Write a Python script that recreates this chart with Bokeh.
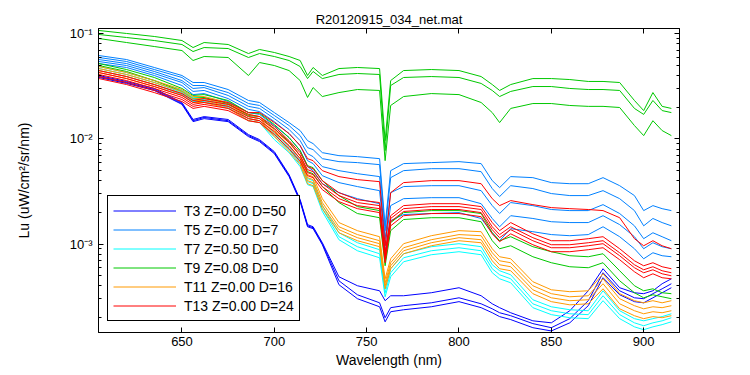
from bokeh.plotting import figure
from bokeh.models import Range1d, LinearAxis, LogAxis, FixedTicker, CustomJSTickFormatter, Legend, LegendItem
from bokeh.embed import file_html
from bokeh.resources import INLINE

FONT = "Liberation Sans"

# ---------------- data ----------------
wavelength = [605, 620, 635, 650, 656, 662, 675, 686, 692, 700, 708, 714, 718, 721, 726, 735, 745, 757,
              760, 763, 770, 785, 800, 812, 818, 822, 828, 840, 850, 860, 870, 878, 887, 895, 900, 905, 910, 915]

# T3 Z=0.00 D=50 (blue)
t3_1 = [0.0401, 0.0352, 0.0302, 0.0222, 0.0153, 0.0163, 0.0153, 0.01099, 0.00985, 0.00757, 0.00457, 0.00264, 0.00153, 0.00146, 0.001029, 0.000488, 0.000401, 0.000359, 0.000289, 0.000322, 0.000322, 0.000344, 0.000384, 0.000322, 0.000270, 0.000248, 0.000222, 0.000186, 0.000178, 0.000232, 0.000359, 0.000582, 0.000384, 0.000344, 0.000337, 0.000359, 0.000419, 0.000467]
t3_2 = [0.0392, 0.0344, 0.0295, 0.0217, 0.0149, 0.0160, 0.0149, 0.01075, 0.00963, 0.00740, 0.00447, 0.00259, 0.00149, 0.00143, 0.001007, 0.000447, 0.000329, 0.000276, 0.000199, 0.000248, 0.000259, 0.000276, 0.000308, 0.000270, 0.000242, 0.000222, 0.000208, 0.000175, 0.000160, 0.000195, 0.000289, 0.000533, 0.000359, 0.000308, 0.000302, 0.000337, 0.000375, 0.000419]
t3_3 = [0.0384, 0.0337, 0.0289, 0.0213, 0.0146, 0.0156, 0.0146, 0.01052, 0.00943, 0.00724, 0.00438, 0.00253, 0.00146, 0.00140, 0.000985, 0.000410, 0.000302, 0.000253, 0.000182, 0.000227, 0.000237, 0.000253, 0.000283, 0.000248, 0.000222, 0.000204, 0.000191, 0.000160, 0.000149, 0.000178, 0.000259, 0.000478, 0.000329, 0.000283, 0.000276, 0.000308, 0.000344, 0.000384]

# T5 Z=0.00 D=7 (light blue)
t5_1 = [0.0621, 0.0569, 0.0478, 0.0401, 0.0344, 0.0344, 0.0295, 0.0232, 0.0222, 0.0178, 0.0143, 0.0120, 0.00963, 0.00902, 0.00740, 0.00693, 0.00678, 0.00649, 0.00149, 0.00499, 0.00582, 0.00595, 0.00608, 0.00582, 0.00401, 0.00344, 0.00438, 0.00428, 0.00384, 0.00375, 0.00375, 0.00428, 0.00359, 0.00289, 0.00208, 0.00232, 0.00217, 0.00208]
t5_2 = [0.0595, 0.0545, 0.0457, 0.0384, 0.0322, 0.0322, 0.0276, 0.0217, 0.0208, 0.0167, 0.0134, 0.01075, 0.00826, 0.00791, 0.00649, 0.00608, 0.00595, 0.00569, 0.00134, 0.00428, 0.00499, 0.00521, 0.00521, 0.00488, 0.00337, 0.00283, 0.00359, 0.00337, 0.00302, 0.00289, 0.00289, 0.00322, 0.00270, 0.00208, 0.00149, 0.00175, 0.00160, 0.00149]
t5_3 = [0.0569, 0.0521, 0.0438, 0.0359, 0.0302, 0.0308, 0.0259, 0.0204, 0.0195, 0.0156, 0.0123, 0.00963, 0.00724, 0.00678, 0.00545, 0.00499, 0.00467, 0.00438, 0.001124, 0.00308, 0.00352, 0.00359, 0.00359, 0.00322, 0.00232, 0.00195, 0.00248, 0.00232, 0.00213, 0.00208, 0.00208, 0.00237, 0.00195, 0.00149, 0.001124, 0.00128, 0.001174, 0.001075]
t5_4 = [0.0545, 0.0499, 0.0419, 0.0344, 0.0283, 0.0289, 0.0242, 0.0191, 0.0182, 0.0146, 0.01124, 0.00863, 0.00621, 0.00582, 0.00447, 0.00384, 0.00352, 0.00322, 0.000963, 0.00232, 0.00270, 0.00276, 0.00276, 0.00242, 0.00175, 0.00146, 0.00186, 0.00175, 0.00163, 0.00160, 0.00160, 0.00186, 0.00153, 0.001174, 0.000902, 0.001029, 0.000943, 0.000902]
t5_5 = [0.0521, 0.0478, 0.0401, 0.0322, 0.0264, 0.0270, 0.0227, 0.0178, 0.0171, 0.0134, 0.01029, 0.00774, 0.00545, 0.00499, 0.00375, 0.00308, 0.00270, 0.00242, 0.000863, 0.00167, 0.00191, 0.00195, 0.00199, 0.00175, 0.00128, 0.001075, 0.00140, 0.00131, 0.00123, 0.00120, 0.00123, 0.00146, 0.001174, 0.000902, 0.000724, 0.000826, 0.000774, 0.000757]

# T7 Z=0.50 D=0 (cyan)
t7_1 = [0.0488, 0.0428, 0.0359, 0.0289, 0.0248, 0.0248, 0.0217, 0.0163, 0.0156, 0.01124, 0.00845, 0.00621, 0.00419, 0.00401, 0.00232, 0.00128, 0.001029, 0.000883, 0.000375, 0.000582, 0.000808, 0.000943, 0.001007, 0.000943, 0.000635, 0.000557, 0.000510, 0.000295, 0.000253, 0.000237, 0.000232, 0.000359, 0.000232, 0.000195, 0.000186, 0.000195, 0.000204, 0.000217]
t7_2 = [0.0467, 0.0410, 0.0344, 0.0276, 0.0237, 0.0237, 0.0208, 0.0156, 0.0149, 0.01052, 0.00791, 0.00582, 0.00392, 0.00375, 0.00217, 0.001174, 0.000943, 0.000808, 0.000344, 0.000533, 0.000740, 0.000863, 0.000922, 0.000863, 0.000582, 0.000510, 0.000467, 0.000270, 0.000232, 0.000217, 0.000213, 0.000322, 0.000213, 0.000178, 0.000167, 0.000178, 0.000186, 0.000199]
t7_3 = [0.0447, 0.0392, 0.0329, 0.0264, 0.0227, 0.0227, 0.0199, 0.0149, 0.0143, 0.00985, 0.00740, 0.00545, 0.00367, 0.00352, 0.00204, 0.001099, 0.000863, 0.000740, 0.000315, 0.000488, 0.000678, 0.000791, 0.000845, 0.000791, 0.000533, 0.000467, 0.000428, 0.000248, 0.000213, 0.000199, 0.000195, 0.000289, 0.000195, 0.000163, 0.000153, 0.000163, 0.000171, 0.000182]

# T9 Z=0.08 D=0 (green)
t9_1 = [0.1075, 0.1007, 0.0943, 0.0863, 0.0740, 0.0826, 0.0791, 0.0649, 0.0709, 0.0664, 0.0608, 0.0557, 0.0401, 0.0478, 0.0401, 0.0467, 0.0478, 0.0467, 0.00963, 0.0359, 0.0447, 0.0457, 0.0447, 0.0392, 0.0329, 0.0289, 0.0329, 0.0375, 0.0375, 0.0367, 0.0352, 0.0352, 0.0344, 0.0232, 0.0186, 0.0276, 0.0204, 0.0195]
t9_2 = [0.0985, 0.0922, 0.0863, 0.0791, 0.0678, 0.0740, 0.0724, 0.0595, 0.0649, 0.0608, 0.0557, 0.0488, 0.0375, 0.0438, 0.0375, 0.0410, 0.0419, 0.0410, 0.00774, 0.0322, 0.0384, 0.0392, 0.0384, 0.0337, 0.0289, 0.0253, 0.0283, 0.0315, 0.0315, 0.0302, 0.0295, 0.0295, 0.0289, 0.0195, 0.0171, 0.0232, 0.0186, 0.0178]
t9_3 = [0.0902, 0.0826, 0.0757, 0.0693, 0.0557, 0.0608, 0.0595, 0.0401, 0.0533, 0.0499, 0.0447, 0.0359, 0.0248, 0.0308, 0.0253, 0.0276, 0.0295, 0.0289, 0.00621, 0.0208, 0.0253, 0.0270, 0.0264, 0.0222, 0.0178, 0.0143, 0.0195, 0.0217, 0.0217, 0.0208, 0.0204, 0.0204, 0.0199, 0.0134, 0.01075, 0.0149, 0.0120, 0.01075]
t9_4 = [0.0521, 0.0457, 0.0384, 0.0302, 0.0259, 0.0264, 0.0232, 0.0178, 0.0175, 0.0137, 0.01029, 0.00774, 0.00557, 0.00533, 0.00401, 0.00289, 0.00227, 0.00208, 0.000724, 0.00160, 0.00199, 0.00208, 0.00208, 0.00195, 0.00128, 0.001075, 0.001174, 0.000943, 0.000845, 0.000774, 0.000757, 0.000808, 0.000557, 0.000401, 0.000359, 0.000375, 0.000344, 0.000337]
t9_5 = [0.0499, 0.0438, 0.0359, 0.0283, 0.0242, 0.0248, 0.0217, 0.0167, 0.0163, 0.0125, 0.00943, 0.00693, 0.00488, 0.00467, 0.00352, 0.00248, 0.00195, 0.00178, 0.000621, 0.00134, 0.00171, 0.00178, 0.00178, 0.00163, 0.001075, 0.000902, 0.000963, 0.000757, 0.000664, 0.000608, 0.000595, 0.000664, 0.000447, 0.000344, 0.000308, 0.000329, 0.000315, 0.000302]

# T11 Z=0.00 D=16 (orange)
t11_1 = [0.0488, 0.0428, 0.0359, 0.0295, 0.0253, 0.0253, 0.0222, 0.0171, 0.0163, 0.0120, 0.00922, 0.00693, 0.00457, 0.00438, 0.00270, 0.00160, 0.00134, 0.001174, 0.000467, 0.000724, 0.001007, 0.00120, 0.00134, 0.00131, 0.000902, 0.000757, 0.000724, 0.000438, 0.000367, 0.000352, 0.000359, 0.000521, 0.000337, 0.000289, 0.000276, 0.000289, 0.000276, 0.000289]
t11_2 = [0.0467, 0.0410, 0.0344, 0.0283, 0.0242, 0.0242, 0.0213, 0.0163, 0.0156, 0.01149, 0.00863, 0.00649, 0.00428, 0.00410, 0.00248, 0.00146, 0.00123, 0.001075, 0.000428, 0.000664, 0.000922, 0.001099, 0.00123, 0.00120, 0.000826, 0.000693, 0.000664, 0.000401, 0.000337, 0.000315, 0.000322, 0.000467, 0.000302, 0.000259, 0.000242, 0.000253, 0.000248, 0.000259]
t11_3 = [0.0447, 0.0392, 0.0329, 0.0270, 0.0232, 0.0232, 0.0204, 0.0156, 0.0149, 0.01099, 0.00808, 0.00608, 0.00401, 0.00384, 0.00232, 0.00137, 0.001149, 0.001007, 0.000401, 0.000621, 0.000863, 0.001029, 0.001149, 0.001099, 0.000757, 0.000635, 0.000608, 0.000367, 0.000308, 0.000289, 0.000295, 0.000419, 0.000270, 0.000232, 0.000217, 0.000227, 0.000222, 0.000232]
t11_4 = [0.0428, 0.0375, 0.0315, 0.0259, 0.0222, 0.0222, 0.0195, 0.0149, 0.0143, 0.01052, 0.00757, 0.00569, 0.00375, 0.00359, 0.00217, 0.00128, 0.001075, 0.000943, 0.000375, 0.000582, 0.000808, 0.000963, 0.001075, 0.001029, 0.000693, 0.000582, 0.000557, 0.000337, 0.000283, 0.000264, 0.000270, 0.000375, 0.000242, 0.000208, 0.000195, 0.000204, 0.000199, 0.000208]

# T13 Z=0.00 D=24 (red)
t13_1 = [0.0447, 0.0392, 0.0329, 0.0270, 0.0232, 0.0242, 0.0222, 0.0178, 0.0178, 0.0143, 0.01124, 0.00863, 0.00649, 0.00621, 0.00499, 0.00438, 0.00410, 0.00392, 0.000963, 0.00308, 0.00384, 0.00401, 0.00401, 0.00375, 0.00270, 0.00232, 0.00259, 0.00237, 0.00222, 0.00217, 0.00213, 0.00208, 0.00178, 0.001124, 0.000963, 0.001075, 0.000963, 0.000902]
t13_2 = [0.0428, 0.0375, 0.0315, 0.0259, 0.0222, 0.0232, 0.0213, 0.0171, 0.0163, 0.0131, 0.00963, 0.00740, 0.00545, 0.00521, 0.00401, 0.00308, 0.00264, 0.00248, 0.000826, 0.00186, 0.00232, 0.00242, 0.00242, 0.00227, 0.00160, 0.00134, 0.00160, 0.00125, 0.001075, 0.001075, 0.001124, 0.001174, 0.000902, 0.000693, 0.000621, 0.000664, 0.000608, 0.000582]
t13_3 = [0.0410, 0.0359, 0.0302, 0.0248, 0.0213, 0.0222, 0.0204, 0.0163, 0.0156, 0.0125, 0.00922, 0.00693, 0.00510, 0.00488, 0.00375, 0.00289, 0.00248, 0.00232, 0.000774, 0.00175, 0.00217, 0.00227, 0.00227, 0.00213, 0.00146, 0.00123, 0.00146, 0.001149, 0.000985, 0.000985, 0.001029, 0.001075, 0.000826, 0.000635, 0.000569, 0.000608, 0.000557, 0.000533]
t13_4 = [0.0392, 0.0344, 0.0289, 0.0237, 0.0204, 0.0213, 0.0195, 0.0156, 0.0149, 0.01174, 0.00863, 0.00649, 0.00478, 0.00457, 0.00352, 0.00270, 0.00232, 0.00217, 0.000724, 0.00163, 0.00204, 0.00213, 0.00213, 0.00199, 0.00137, 0.001149, 0.00137, 0.001075, 0.000922, 0.000922, 0.000963, 0.001007, 0.000774, 0.000595, 0.000533, 0.000569, 0.000521, 0.000499]
t13_5 = [0.0375, 0.0329, 0.0276, 0.0227, 0.0195, 0.0204, 0.0186, 0.0149, 0.0143, 0.01099, 0.00808, 0.00608, 0.00447, 0.00428, 0.00329, 0.00253, 0.00217, 0.00199, 0.000664, 0.00149, 0.00186, 0.00195, 0.00195, 0.00182, 0.00125, 0.001052, 0.00125, 0.000985, 0.000845, 0.000845, 0.000883, 0.000922, 0.000709, 0.000545, 0.000478, 0.000521, 0.000478, 0.000467]

labels = ["T3 Z=0.00 D=50", "T5 Z=0.00 D=7", "T7 Z=0.50 D=0",
          "T9 Z=0.08 D=0", "T11 Z=0.00 D=16", "T13 Z=0.00 D=24"]
colors = ["#0000FF", "#0080FF", "#00FFFF", "#00C800", "#FF9900", "#FF0000"]
series = [[t3_1, t3_2, t3_3],
          [t5_1, t5_2, t5_3, t5_4, t5_5],
          [t7_1, t7_2, t7_3],
          [t9_1, t9_2, t9_3, t9_4, t9_5],
          [t11_1, t11_2, t11_3, t11_4],
          [t13_1, t13_2, t13_3, t13_4, t13_5]]

x_ticks = [650, 700, 750, 800, 850, 900]
y_ticks = [1e-3, 1e-2, 1e-1]
y_minor = [m * d for d in (1e-4, 1e-3, 1e-2) for m in range(2, 10)]

for grp in series:
    for s in grp:
        assert len(s) == len(wavelength), len(s)

# ---------------- figure ----------------
p = figure(width=750, height=375, output_backend="svg", toolbar_location=None,
           x_range=Range1d(604.8, 919.4), y_range=Range1d(1.44e-4, 0.1123),
           y_axis_type="log", title="R20120915_034_net.mat",
           min_border_left=98, min_border_right=71, min_border_top=28, min_border_bottom=43)
p.background_fill_color = "white"
p.border_fill_color = "white"
p.outline_line_color = "black"
p.outline_line_width = 1
p.outline_line_alpha = 1
p.xgrid.visible = False
p.ygrid.visible = False

p.title.text_font = FONT
p.title.text_font_size = "13px"
p.title.text_font_style = "normal"
p.title.text_color = "black"
p.title.align = "center"
p.title.standoff = 4

xt = FixedTicker(ticks=x_ticks, minor_ticks=[])
yt = FixedTicker(ticks=y_ticks, minor_ticks=y_minor)

sup_fmt = CustomJSTickFormatter(code=r"""
const e = Math.round(Math.log10(tick));
const m = {"-": "\u207b", "0": "\u2070", "1": "\u00b9", "2": "\u00b2", "3": "\u00b3", "4": "\u2074"};
return "10" + String(e).split("").map(c => m[c]).join("");
""")


def style(ax):
    ax.axis_line_color = "black"
    ax.major_tick_line_color = "black"
    ax.minor_tick_line_color = "black"
    ax.major_tick_in = 5
    ax.major_tick_out = 0
    ax.minor_tick_in = 3
    ax.minor_tick_out = 0
    ax.major_label_text_font = FONT
    ax.major_label_text_font_size = "13px"
    ax.major_label_text_color = "black"
    ax.axis_label_text_font = FONT
    ax.axis_label_text_font_size = "14px"
    ax.axis_label_text_font_style = "normal"
    ax.axis_label_text_color = "black"


xa = p.xaxis[0]
style(xa)
xa.ticker = xt
xa.axis_label = "Wavelength (nm)"
xa.major_label_standoff = 4
xa.axis_label_standoff = 3

ya = p.yaxis[0]
style(ya)
ya.ticker = yt
ya.formatter = sup_fmt
ya.axis_label = "Lu (uW/cm\u00b2/sr/nm)"
ya.major_label_standoff = 6
ya.axis_label_standoff = 35


def mirror(ax):
    style(ax)
    ax.major_label_text_font_size = "2px"
    ax.major_label_text_color = None
    ax.major_label_standoff = 0


top = LinearAxis(ticker=xt)
mirror(top)
p.add_layout(top, "above")

right = LogAxis(ticker=yt)
mirror(right)
p.add_layout(right, "right")

items = []
for lab, col, grp in zip(labels, colors, series):
    rs = [p.line(wavelength, s, line_color=col, line_width=1) for s in grp]
    items.append(LegendItem(label=lab, renderers=[rs[0]]))

lg = Legend(items=items, location=(9, 11))
lg.border_line_color = "black"
lg.border_line_width = 1
lg.border_line_alpha = 1
lg.background_fill_color = "white"
lg.background_fill_alpha = 1
lg.label_text_font = FONT
lg.label_text_font_size = "14px"
lg.label_text_color = "black"
lg.glyph_width = 63
lg.glyph_height = 19
lg.label_height = 19
lg.spacing = 0
lg.padding = 5
lg.margin = 0
lg.label_standoff = 8
p.add_layout(lg)

open("out.html", "w", encoding="utf-8").write(file_html(p, INLINE, title="R20120915_034_net.mat"))
